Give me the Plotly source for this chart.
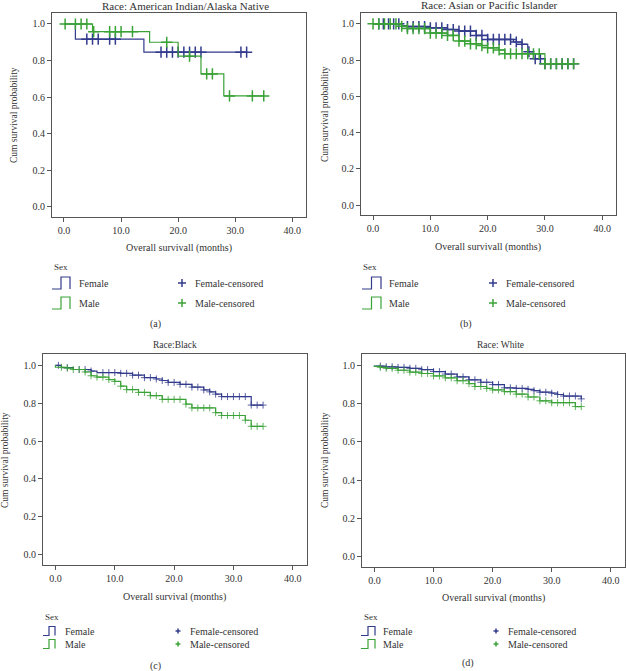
import plotly.graph_objects as go

W, H = 626, 671
BLUE = "#323b8c"
GREEN = "#3aa237"
FONT = "Liberation Serif"
TXT = "#333333"

# ---- data ----
# (a) American Indian/Alaska Native
a_female_t = [2, 14]
a_female_s = [0.917, 0.846]
a_female_end = 32
a_female_cens = [4, 5, 6, 8, 9, 17, 18, 19, 20, 21, 22, 23, 24, 31, 32]
a_male_t = [5, 15, 20, 24, 28]
a_male_s = [0.958, 0.90, 0.824, 0.727, 0.607]
a_male_end = 35
a_male_cens = [0.2, 2, 3, 4, 5.2, 8, 9, 10, 12, 18, 22, 25, 26, 29, 33, 35]

# (b) Asian or Pacific Islander
b_female_t = [5, 6, 10, 13, 15, 18, 20, 24.5, 26, 27, 28, 30]
b_female_s = [0.99, 0.985, 0.978, 0.969, 0.96, 0.936, 0.914, 0.90, 0.887, 0.846, 0.808, 0.78]
b_female_end = 35
b_female_cens = [1, 1.8, 2.7, 3.6, 4.5, 6, 7, 8, 9, 10, 11, 12, 13, 14, 15, 16, 17,
                 18, 19, 20, 21, 22, 23, 24, 25, 26, 27.2, 28.3, 29.2, 30, 31, 32, 33, 34, 35]
b_male_t = [5, 6, 10, 13, 15, 17, 19, 20, 22, 23, 30]
b_male_s = [0.987, 0.974, 0.949, 0.936, 0.905, 0.89, 0.88, 0.868, 0.856, 0.835, 0.78]
b_male_end = 35
b_male_cens = [0, 1, 2, 3, 4, 5, 6, 7, 8, 9, 10, 11, 12, 13, 14, 15, 16, 17, 18, 19,
               20, 21, 22, 23, 24, 25, 26, 27, 28, 29, 30, 31, 32, 33, 34, 35]

# (c) Black
c_female_t = [1, 3, 6, 7, 11, 13, 15, 17, 18, 19, 21, 23, 25, 26, 27, 28, 33]
c_female_s = [0.988, 0.978, 0.97, 0.962, 0.958, 0.948, 0.935, 0.928, 0.92, 0.91,
              0.90, 0.885, 0.87, 0.86, 0.848, 0.835, 0.79]
c_female_end = 35
c_female_cens = [0.5, 2, 4, 5, 6, 8, 9, 10, 11, 12, 13, 14, 15, 16, 17, 18, 19, 20,
                 21, 22, 23, 24, 25, 26, 27, 28, 29, 30, 31, 32, 33, 34, 35]
c_male_t = [0, 2, 3, 5, 6, 7, 9, 10, 11, 12, 14, 16, 18, 22, 23, 27, 28, 32, 33]
c_male_s = [0.99, 0.985, 0.978, 0.965, 0.945, 0.938, 0.925, 0.915, 0.89, 0.872,
            0.857, 0.84, 0.82, 0.795, 0.775, 0.75, 0.735, 0.71, 0.678]
c_male_end = 35
c_male_cens = [1, 2, 3, 4, 5, 6, 7, 8, 9, 10, 11, 12, 13, 14, 15, 16, 17, 18, 19, 20,
               21, 22, 23, 24, 25, 26, 27, 28, 29, 30, 31, 32, 33, 34, 35]

# (d) White
d_female_t = [0, 2, 4, 6, 8, 10, 12, 14, 16, 18, 20, 22, 24, 26, 27, 28, 30, 31, 32, 35]
d_female_s = [0.997, 0.993, 0.99, 0.985, 0.978, 0.968, 0.955, 0.94, 0.925, 0.912,
              0.90, 0.883, 0.88, 0.875, 0.868, 0.86, 0.855, 0.848, 0.84, 0.825]
d_female_end = 35
d_female_cens = [1, 2, 3, 4, 5, 6, 7, 8, 9, 10, 11, 12, 13, 14, 15, 16, 17, 18, 19, 20,
                 21, 22, 23, 24, 25, 26, 27, 28, 29, 30, 31, 32, 33, 34, 35]
d_male_t = [0, 1, 2, 4, 6, 8, 10, 12, 14, 16, 17, 19, 20, 22, 24, 26, 28, 30, 34]
d_male_s = [0.995, 0.99, 0.985, 0.975, 0.965, 0.958, 0.945, 0.935, 0.92, 0.905,
            0.89, 0.88, 0.872, 0.863, 0.85, 0.835, 0.815, 0.805, 0.785]
d_male_end = 35
d_male_cens = [1, 2, 3, 4, 5, 6, 7, 8, 9, 10, 11, 12, 13, 14, 15, 16, 17, 18, 19, 20,
               21, 22, 23, 24, 25, 26, 27, 28, 29, 30, 31, 32, 33, 34, 35]

titles = ["Race: American Indian/Alaska Native", "Race: Asian or Pacific Islander",
          "Race:Black", "Race: White"]
xtitles = ["Overall survivall (months)", "Overall survivall (months)",
           "Overall survival (months)", "Overall survival (months)"]
captions = ["(a)", "(b)", "(c)", "(d)"]
x_ticks = [0, 10, 20, 30, 40]
y_ticks = [0, 0.2, 0.4, 0.6, 0.8, 1.0]


def px(x):
    return x / W


def py(y):
    return 1 - y / H


def surv_at(times, survs, t):
    s = 1.0
    for ti, si in zip(times, survs):
        if ti <= t:
            s = si
    return s


def note(x, y, text, size=10, anchor="center", angle=0):
    return dict(x=px(x), y=py(y), text=text, xref="paper", yref="paper", showarrow=False,
                xanchor=anchor, yanchor="middle", textangle=angle, font=dict(size=size))


# panel boxes in pixels: left, right, top, bottom
boxes = [(52, 306, 13, 217), (361, 616, 13, 215), (43, 307, 354, 565), (362, 625, 354, 567)]

panels = [
    ((a_female_t, a_female_s, a_female_end, a_female_cens),
     (a_male_t, a_male_s, a_male_end, a_male_cens)),
    ((b_female_t, b_female_s, b_female_end, b_female_cens),
     (b_male_t, b_male_s, b_male_end, b_male_cens)),
    ((c_female_t, c_female_s, c_female_end, c_female_cens),
     (c_male_t, c_male_s, c_male_end, c_male_cens)),
    ((d_female_t, d_female_s, d_female_end, d_female_cens),
     (d_male_t, d_male_s, d_male_end, d_male_cens)),
]

fig = go.Figure()
layout = dict(width=W, height=H, margin=dict(l=0, r=0, t=0, b=0),
              plot_bgcolor="white", paper_bgcolor="white", showlegend=False,
              font=dict(family=FONT, color=TXT, size=10))
annotations = []
shapes = []

for i, (box, series) in enumerate(zip(boxes, panels)):
    n = "" if i == 0 else str(i + 1)
    big = i < 2
    for (t, s, end, cens), col in zip(series, [BLUE, GREEN]):
        fig.add_trace(go.Scatter(
            x=[0] + t + [end], y=[1.0] + s + [s[-1]], mode="lines",
            line=dict(color=col, width=1.2, shape="hv"),
            xaxis="x" + n, yaxis="y" + n))
        fig.add_trace(go.Scatter(
            x=cens, y=[surv_at(t, s, c) for c in cens], mode="markers",
            marker=dict(symbol="cross-thin", size=8 if big else 5, opacity=1 if big else 0.8,
                        line=dict(color=col, width=1.5 if big else 1)),
            xaxis="x" + n, yaxis="y" + n))
    l, r, tp, bt = box
    axstyle = dict(showline=True, mirror=True, linecolor="#555555", linewidth=1,
                   ticks="outside", ticklen=4, tickcolor="#555555", showgrid=False,
                   zeroline=False, tickfont=dict(family=FONT, size=10, color=TXT))
    layout["xaxis" + n] = dict(domain=[px(l), px(r)], range=[-2.1, 42.4], anchor="y" + n,
                               tickvals=x_ticks, tickformat=".1f", **axstyle)
    layout["yaxis" + n] = dict(domain=[py(bt), py(tp)], range=[-0.055, 1.06], anchor="x" + n,
                               tickvals=y_ticks, tickformat=".1f", **axstyle)

# titles, axis titles, captions (pixel positions)
title_pos = [(185, 6), (489, 5), (175, 345), (500, 345)]
xt_pos = [(179, 248), (488, 247), (174, 597), (493, 598)]
yt_pos = [(14, 115), (325, 114), (5, 460), (325, 460)]
cap_pos = [(155, 324), (466, 324), (155, 666), (468, 663)]
for i in range(4):
    annotations.append(note(*title_pos[i], titles[i], size=11 if i < 2 else 9.5))
    annotations.append(note(*xt_pos[i], xtitles[i], size=10))
    annotations.append(note(*yt_pos[i], "Cum survival probability", size=9.5, angle=-90))
    annotations.append(note(*cap_pos[i], captions[i], size=10))

# legends: sex_x, sex_y, row ys, sym x0, sym x1, sym h, text x, plus x, ctext x, plus half-size
legends = [
    (52, 267, [283, 303], 52, 70, 12, 77, 182, 193, 4),
    (361, 267, [283, 303], 362, 381, 12, 387, 493, 504, 4),
    (43, 617, [631, 644], 43, 55, 9, 63, 178, 188, 2.5),
    (362, 617, [631, 644], 361, 375, 9, 381, 496, 506, 2.5),
]
for sx, sy, rows, s0, s1, sh, tx, plx, ctx, ph in legends:
    annotations.append(note(sx, sy, "Sex", size=9, anchor="left"))
    for ry, col, lab in zip(rows, [BLUE, GREEN], ["Female", "Male"]):
        yb, yt_ = ry + sh / 2, ry - sh / 2
        xm = (s0 + s1) / 2
        path = "M{},{} L{},{} L{},{} L{},{} L{},{}".format(
            px(s0), py(yb), px(xm), py(yb), px(xm), py(yt_), px(s1), py(yt_), px(s1), py(yb))
        shapes.append(dict(type="path", path=path, xref="paper", yref="paper",
                           line=dict(color=col, width=1.2)))
        annotations.append(note(tx, ry, lab, size=10, anchor="left"))
        shapes.append(dict(type="line", xref="paper", yref="paper", x0=px(plx - ph), x1=px(plx + ph),
                           y0=py(ry), y1=py(ry), line=dict(color=col, width=1.5)))
        shapes.append(dict(type="line", xref="paper", yref="paper", x0=px(plx), x1=px(plx),
                           y0=py(ry - ph), y1=py(ry + ph), line=dict(color=col, width=1.5)))
        annotations.append(note(ctx, ry, lab + "-censored", size=10, anchor="left"))

layout["annotations"] = annotations
layout["shapes"] = shapes
fig.update_layout(**layout)
fig.write_html("out.html", config={"displayModeBar": False},
               post_script="document.body.style.margin='0';")
